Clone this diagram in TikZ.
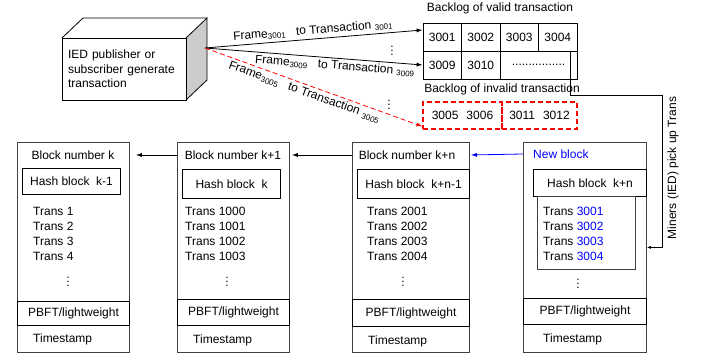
\documentclass[tikz,border=0pt]{standalone}
\usepackage{fontspec}
\setmainfont{Liberation Sans}
\usetikzlibrary{arrows.meta}

\tikzset{
  blk/.style={draw=black!75, line width=0.8pt, minimum height=210pt, anchor=north west, inner sep=0pt},
  hashbox/.style={draw, line width=1.1pt, inner sep=0pt, anchor=north west},
  cell/.style={draw, line width=0.8pt, minimum width=38.5pt, minimum height=28pt, inner sep=0pt},
  badcell/.style={draw=red, line width=1.1pt, dash pattern=on 5pt off 3pt, minimum height=27pt, inner sep=0pt},
  arr/.style={-{Latex[length=6pt,width=4pt]}, line width=0.8pt},
  trans/.style={anchor=west, inner sep=0pt, align=left, font=\fontsize{12}{15}\selectfont},
  vdot/.style={inner sep=0pt},
}

\begin{document}
\begin{tikzpicture}[x=1pt, y=-1pt, font=\fontsize{12}{14.5}\selectfont]
  \useasboundingbox (0,0) rectangle (702,355);

  % IED box
  \filldraw[fill=gray!40, line width=0.8pt] (186,38) -- (207,18) -- (207,80) -- (186,100) -- cycle;
  \draw[line width=0.8pt] (62,38) -- (83,18) -- (207,18);
  \node[draw, fill=white, line width=0.8pt, minimum width=124pt, minimum height=62pt,
        text width=112pt, inner sep=6pt, align=left] (ied) at (124,69)
        {IED publisher or\\subscriber generate\\transaction};
  \coordinate (src) at (205,48);

  % Backlog of valid transaction
  \node (valid) at (500,8) {Backlog of valid transaction};
  \node[cell] (c3001) at (442.25,37) {3001};
  \node[cell] (c3002) at (480.75,37) {3002};
  \node[cell] (c3003) at (519.25,37) {3003};
  \node[cell] (c3004) at (557.75,37) {3004};
  \node[cell] (c3009) at (442.25,65) {3009};
  \node[cell] (c3010) at (480.75,65) {3010};
  \node[cell, minimum width=77pt] (cdots) at (538.5,65) {................};

  % Backlog of invalid transaction
  \node (invalid) at (502,89) {Backlog of invalid transaction};
  \node[badcell, minimum width=79pt] (inv1) at (462.5,115.5) {3005\hspace{8pt}3006};
  \node[badcell, minimum width=75pt] (inv2) at (539.5,115.5) {3011\hspace{8pt}3012};

  % Frames to transactions
  \draw[arr] (src) -- node[sloped, above, inner sep=3pt] (f1)
    {Frame\textsubscript{3001}\hspace{10pt}to Transaction \textsubscript{3001}} ([yshift=7pt]c3001.west);
  \draw[arr] (src) -- node[sloped, below, pos=0.6, inner sep=2pt] (f2)
    {Frame\textsubscript{3009}\hspace{10pt}to Transaction \textsubscript{3009}} (c3009.west);
  \draw[arr, red, dash pattern=on 5pt off 3pt] (src) -- node[sloped, below, pos=0.47, text=black, inner sep=2pt] (f3)
    {Frame\textsubscript{3005}\hspace{10pt}to Transaction \textsubscript{3005}} ([yshift=-11pt]inv1.west);
  \node[vdot] (vd1) at (392,48) {$\vdots$};
  \node[vdot] (vd2) at (389,102) {$\vdots$};

  % Blocks
  \node[blk, minimum width=112pt] (blkk) at (17,142) {};
  \node[blk, minimum width=112pt] (blkk1) at (177,142) {};
  \node[blk, minimum width=117pt] (blkkn) at (352,142) {};
  \node[blk, minimum width=123pt] (blknew) at (523,142) {};

  % Block number k
  \node (tk) at (73,155) {Block number k};
  \node[hashbox, minimum width=98pt, minimum height=26pt] (hk) at (22,168) {Hash block\ \ k-1};
  \node[trans] (lk) at (33,233.5) {Trans 1\\Trans 2\\Trans 3\\Trans 4};
  \node[vdot] (dk) at (68,279) {$\vdots$};
  \node[hashbox, minimum width=112pt, minimum height=24pt] (pk) at (17,301) {PBFT/lightweight};
  \node[trans] (sk) at (33,339) {Timestamp};

  % Block number k+1
  \node (tk1) at (233,155) {Block number k+1};
  \node[hashbox, minimum width=98pt, minimum height=29pt] (hk1) at (182,169) {Hash block\ \ k};
  \node[trans] (lk1) at (185,233.5) {Trans 1000\\Trans 1001\\Trans 1002\\Trans 1003};
  \node[vdot] (dk1) at (227,279) {$\vdots$};
  \node[hashbox, minimum width=112pt, minimum height=26pt] (pk1) at (177,299) {PBFT/lightweight};
  \node[trans] (sk1) at (193,340) {Timestamp};

  % Block number k+n
  \node (tkn) at (407,155) {Block number k+n};
  \node[hashbox, minimum width=112pt, minimum height=29pt] (hkn) at (357,169) {Hash block\ \ k+n-1};
  \node[trans] (lkn) at (367,233.5) {Trans 2001\\Trans 2002\\Trans 2003\\Trans 2004};
  \node[vdot] (dkn) at (403,279) {$\vdots$};
  \node[hashbox, minimum width=117pt, minimum height=27pt] (pkn) at (352,299) {PBFT/lightweight};
  \node[trans] (skn) at (368,341) {Timestamp};

  % New block
  \node[anchor=west, inner sep=0pt, text=blue] (tnew) at (533,154) {New block};
  \node[hashbox, minimum width=113pt, minimum height=27pt] (hnew) at (533,169) {Hash block\ \ k+n};
  \node[draw=black!75, line width=0.8pt, anchor=north west, minimum width=98pt, minimum height=73pt] (bnew) at (537,196) {};
  \node[trans] (lnew) at (543,233.5) {Trans \textcolor{blue}{3001}\\Trans \textcolor{blue}{3002}\\Trans \textcolor{blue}{3003}\\Trans \textcolor{blue}{3004}};
  \node[vdot] (dnew) at (578,281) {$\vdots$};
  \node[hashbox, minimum width=123pt, minimum height=26pt] (pnew) at (523,298) {PBFT/lightweight};
  \node[trans] (snew) at (543,339) {Timestamp};

  % Chain links
  \draw[arr, shorten >=6pt] (blkk1.west |- tk1) -- (blkk.east |- tk);
  \draw[arr, shorten >=2pt] (blkkn.west |- tkn) -- (blkk1.east |- tk1);
  \draw[arr, blue, shorten >=1pt] (blknew.west |- tnew) -- (blkkn.east |- tkn);

  % Miners pick up transactions
  \coordinate (pick) at (570,51);
  \coordinate (mturn) at (662,95);
  \draw[-{Latex[length=4pt,width=3pt]}, line width=0.7pt] (pick) |- (mturn) |- (blknew.east);
  \node[rotate=90] (miners) at (673,168) {Miners (IED) pick up Trans};
\end{tikzpicture}
\end{document}
